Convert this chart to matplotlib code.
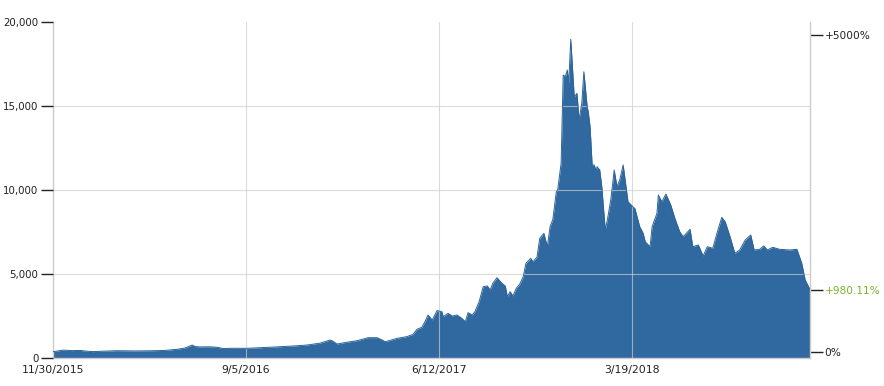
import matplotlib
matplotlib.use("Agg")
import matplotlib.pyplot as plt
import pandas as pd

# price series
dates = [
    "2015-11-30", "2015-12-15", "2015-12-28", "2016-01-08", "2016-01-20", "2016-01-27",
    "2016-02-13", "2016-03-02", "2016-03-28", "2016-04-19", "2016-05-10", "2016-05-28",
    "2016-06-08", "2016-06-16", "2016-06-19", "2016-06-23", "2016-06-30", "2016-07-15",
    "2016-07-25", "2016-08-03", "2016-08-16", "2016-09-06", "2016-09-25", "2016-10-24",
    "2016-11-15", "2016-12-02", "2016-12-21", "2017-01-05", "2017-01-09", "2017-01-15",
    "2017-01-28", "2017-02-13", "2017-03-01", "2017-03-14", "2017-03-20", "2017-03-26",
    "2017-04-02", "2017-04-12", "2017-04-26", "2017-05-05", "2017-05-11", "2017-05-18",
    "2017-05-23", "2017-05-27", "2017-06-02", "2017-06-09", "2017-06-16", "2017-06-18",
    "2017-06-25", "2017-07-01", "2017-07-08", "2017-07-15", "2017-07-20", "2017-07-24",
    "2017-07-30", "2017-08-03", "2017-08-09", "2017-08-15", "2017-08-21", "2017-08-25",
    "2017-08-29", "2017-09-04", "2017-09-11", "2017-09-16", "2017-09-19", "2017-09-23",
    "2017-09-27", "2017-10-02", "2017-10-07", "2017-10-12", "2017-10-16", "2017-10-23",
    "2017-10-26", "2017-11-01", "2017-11-05", "2017-11-11", "2017-11-16", "2017-11-20",
    "2017-11-24", "2017-11-29", "2017-12-01", "2017-12-06", "2017-12-09", "2017-12-12",
    "2017-12-15", "2017-12-17", "2017-12-20", "2017-12-25", "2017-12-29", "2018-01-01",
    "2018-01-05", "2018-01-08", "2018-01-13", "2018-01-14", "2018-01-17", "2018-01-20",
    "2018-01-23", "2018-01-26", "2018-01-27", "2018-01-31", "2018-02-03", "2018-02-08",
    "2018-02-11", "2018-02-16", "2018-02-21", "2018-02-25", "2018-03-01", "2018-03-06",
    "2018-03-13", "2018-03-20", "2018-03-23", "2018-03-30", "2018-04-04", "2018-04-07",
    "2018-04-14", "2018-04-17", "2018-04-24", "2018-04-26", "2018-05-01", "2018-05-07",
    "2018-05-14", "2018-05-20", "2018-05-27", "2018-06-01", "2018-06-11", "2018-06-15",
    "2018-06-23", "2018-06-30", "2018-07-06", "2018-07-14", "2018-07-20", "2018-07-27",
    "2018-08-01", "2018-08-08", "2018-08-15", "2018-08-22", "2018-08-30", "2018-09-07",
    "2018-09-12", "2018-09-20", "2018-09-26", "2018-10-01", "2018-10-09", "2018-10-19",
    "2018-11-03", "2018-11-13", "2018-11-20", "2018-11-25", "2018-12-02",
]
prices = [
    377, 470, 440, 450, 400, 380,
    410, 435, 420, 430, 450, 520,
    590, 720, 770, 680, 660, 665,
    640, 560, 580, 575, 610, 670,
    720, 770, 880, 1070, 1000, 830,
    930, 1030, 1210, 1210, 1100, 970,
    1050, 1170, 1270, 1400, 1710, 1830,
    2200, 2560, 2260, 2820, 2760, 2460,
    2660, 2500, 2560, 2360, 2160, 2700,
    2560, 2760, 3350, 4240, 4290, 4050,
    4450, 4780, 4450, 4290, 3650, 3950,
    3690, 4150, 4400, 4840, 5640, 5930,
    5730, 6000, 7120, 7420, 6625, 7820,
    8250, 9900, 10000, 11590, 16840, 16740,
    17140, 16350, 18970, 15550, 15750, 14170,
    15160, 17040, 14860, 14760, 13770, 11490,
    11490, 11090, 11390, 11190, 10200, 7620,
    8210, 9400, 11190, 10200, 10600, 11490,
    9300, 9010, 8900, 7820, 7420, 6920,
    6625, 7820, 8610, 9700, 9300, 9760,
    9110, 8310, 7520, 7220, 7660, 6625,
    6730, 6070, 6625, 6530, 7420, 8370,
    8110, 7220, 6230, 6430, 7020, 7320,
    6430, 6470, 6670, 6430, 6590, 6470,
    6430, 6470, 5640, 4640, 4072,
]

x_ticks = ["2015-11-30", "2016-09-05", "2017-06-12", "2018-03-19"]
x_tick_labels = ["11/30/2015", "9/5/2016", "6/12/2017", "3/19/2018"]
y_ticks = [0, 5000, 10000, 15000, 20000]
pct_ticks = [0, 980.11, 5000]
pct_labels = ["0%", "+980.11%", "+5000%"]

plt.rcParams['font.family'] = ['DejaVu Sans']

dt = pd.to_datetime(dates)
base = prices[0]

fig = plt.figure(figsize=(8.84, 3.86), dpi=100)
ax = fig.add_axes([53 / 884, 28 / 386, 757 / 884, 336 / 386])

fill_c = "#2f69a0"
ax.fill_between(dt, prices, 0, color=fill_c, linewidth=0, zorder=2)
ax.plot(dt, prices, color="#2c6398", linewidth=0.7, zorder=3)

ax.set_xlim(pd.Timestamp("2015-11-30"), pd.Timestamp("2018-12-02"))
ax.set_ylim(0, 20000)

ax.set_yticks(y_ticks)
ax.set_yticklabels([f"{v:,}" for v in y_ticks])
ax.set_xticks(pd.to_datetime(x_ticks))
ax.set_xticklabels(x_tick_labels)

fs = 7.4
ax.tick_params(axis="y", direction="out", length=9, width=1, color="#222222",
               labelsize=fs, labelcolor="#222222", pad=1.5)
ax.tick_params(axis="x", length=0, labelsize=7.8, labelcolor="#222222", pad=5)

ax.grid(True, color="#cccccc", linewidth=0.8, alpha=0.7, zorder=4)
ax.set_axisbelow(False)
# no gridline along the top edge
ax.yaxis.get_gridlines()[-1].set_visible(False)
ax.spines["top"].set_visible(False)
for side in ["left", "right", "bottom"]:
    ax.spines[side].set_color("#cccccc")
    ax.spines[side].set_linewidth(1)

# right axis: percent change from the first value
sec = ax.secondary_yaxis("right",
                         functions=(lambda v: (v / base - 1) * 100,
                                    lambda p: (p / 100 + 1) * base))
sec.set_yticks(pct_ticks)
sec.set_yticklabels(pct_labels)
sec.tick_params(direction="out", length=9, width=1, color="#222222",
                labelsize=7.6, labelcolor="#222222", pad=1.5)
sec.spines["right"].set_visible(False)
for lbl in sec.get_yticklabels():
    if lbl.get_text() == "+980.11%":
        lbl.set_color("#7ab330")

plt.savefig("out.png", dpi=100)
